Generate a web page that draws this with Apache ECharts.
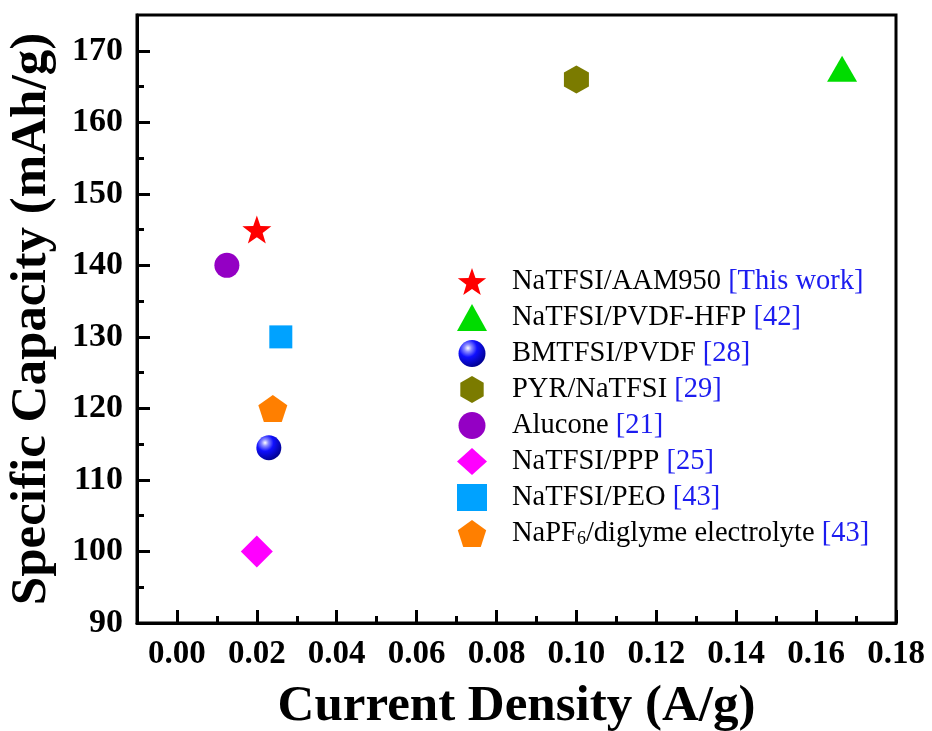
<!DOCTYPE html>
<html>
<head>
<meta charset="utf-8">
<script src="https://cdn.jsdelivr.net/npm/echarts@6/dist/echarts.min.js"></script>
<style>
  html, body { margin: 0; padding: 0; background: #fff; }
  #chart { width: 932px; height: 731px; }
</style>
</head>
<body>
<div id="chart"></div>
<script>
// data
const seriesNames = ['NaTFSI/AAM950', 'NaTFSI/PVDF-HFP', 'BMTFSI/PVDF', 'PYR/NaTFSI', 'Alucone', 'NaTFSI/PPP', 'NaTFSI/PEO', 'NaPF6/diglyme electrolyte']
const refLabels = ['[This work]', '[42]', '[28]', '[29]', '[21]', '[25]', '[43]', '[43]']
const currentDensity = [0.02, 0.1665, 0.023, 0.1, 0.0125, 0.02, 0.026, 0.024]
const capacity = [145, 167.5, 114.5, 166, 140, 100, 130, 120]
const xTicks = [0, 0.02, 0.04, 0.06, 0.08, 0.1, 0.12, 0.14, 0.16, 0.18]
const yTicks = [90, 100, 110, 120, 130, 140, 150, 160, 170]

const font = "'Times New Roman', 'Liberation Serif', serif"

// regular polygon / star outline used as symbol shape
const polyPath = (n, inner) => {
  const pts = []
  const count = inner ? n * 2 : n
  for (let i = 0; i < count; i++) {
    const a = (-90 + (360 / count) * i) * Math.PI / 180
    const r = inner && i % 2 ? 50 * inner : 50
    pts.push((50 + r * Math.cos(a)).toFixed(2) + ' ' + (50 + r * Math.sin(a)).toFixed(2))
  }
  return 'path://M' + pts.join(' L') + ' Z'
}

const sphere = new echarts.graphic.RadialGradient(0.35, 0.3, 0.75, [
  { offset: 0, color: '#ffffff' },
  { offset: 0.18, color: '#8a8aff' },
  { offset: 0.45, color: '#1010ff' },
  { offset: 1, color: '#00008a' }
])

const markStyles = [
  { symbol: polyPath(5, 0.4), size: [29, 28], color: '#ff0000' },
  { symbol: 'triangle', size: [30, 26], color: '#00dc00' },
  { symbol: 'circle', size: 25, color: sphere },
  { symbol: polyPath(6), size: [25, 28], color: '#7b7b00' },
  { symbol: 'circle', size: 25, color: '#9400c4' },
  { symbol: 'diamond', size: 32, color: '#ff00ff' },
  { symbol: 'rect', size: 23, color: '#00a2ff' },
  { symbol: polyPath(5), size: [29, 27], color: '#ff7f00' }
]

const minorOf = ticks => ticks.slice(1).map((v, i) => +((v + ticks[i]) / 2).toFixed(4))

const chart = echarts.init(document.getElementById('chart'))

const tickLine = { color: '#000', width: 3 }

const option = {
  animation: false,
  grid: {
    left: 137, right: 36, top: 15, bottom: 108,
    outerBoundsMode: 'none', containLabel: false,
    show: true, borderColor: '#000', borderWidth: 3
  },
  xAxis: [
    {
      type: 'value', min: -0.01, max: 0.18,
      name: 'Current Density (A/g)', nameLocation: 'middle', nameGap: 58,
      nameTextStyle: { fontFamily: font, fontWeight: 'bold', fontSize: 51, color: '#000' },
      axisLine: { onZero: false, lineStyle: { color: '#000', width: 3 } },
      axisTick: { inside: true, length: 13, customValues: xTicks, lineStyle: tickLine },
      axisLabel: {
        customValues: xTicks, margin: 15,
        fontFamily: font, fontWeight: 'bold', fontSize: 33, color: '#000',
        formatter: v => v.toFixed(2)
      },
      splitLine: { show: false }
    },
    {
      type: 'value', min: -0.01, max: 0.18, position: 'bottom',
      axisLine: { show: false, onZero: false },
      axisTick: { inside: true, length: 7, customValues: minorOf(xTicks), lineStyle: tickLine },
      axisLabel: { show: false },
      splitLine: { show: false }
    }
  ],
  yAxis: [
    {
      type: 'value', min: 90, max: 175,
      name: 'Specific Capacity (mAh/g)', nameLocation: 'middle', nameGap: 80,
      nameTextStyle: { fontFamily: font, fontWeight: 'bold', fontSize: 51, color: '#000' },
      axisLine: { onZero: false, lineStyle: { color: '#000', width: 3 } },
      axisTick: { inside: true, length: 13, customValues: yTicks, lineStyle: tickLine },
      axisLabel: {
        customValues: yTicks, margin: 14,
        fontFamily: font, fontWeight: 'bold', fontSize: 34, color: '#000'
      },
      splitLine: { show: false }
    },
    {
      type: 'value', min: 90, max: 175, position: 'left',
      axisLine: { show: false, onZero: false },
      axisTick: { inside: true, length: 7, customValues: minorOf(yTicks), lineStyle: tickLine },
      axisLabel: { show: false },
      splitLine: { show: false }
    }
  ],
  legend: {
    orient: 'vertical',
    left: 452, top: 262,
    itemWidth: 30, itemHeight: 27, itemGap: 7,
    data: seriesNames,
    formatter: name => {
      const i = seriesNames.indexOf(name)
      const main = name.replace('PF6', 'PF}{sub|6}{n|')
      return '{n|' + main + ' }{r|' + refLabels[i] + '}'
    },
    textStyle: {
      fontFamily: font,
      padding: [0, 0, 0, 20],
      rich: {
        n: { fontFamily: font, fontSize: 28.5, lineHeight: 30, color: '#000' },
        r: { fontFamily: font, fontSize: 28.5, lineHeight: 30, color: '#1c1cf0' },
        sub: { fontFamily: font, fontSize: 18, lineHeight: 14, verticalAlign: 'bottom', color: '#000' }
      }
    }
  },
  series: seriesNames.map((name, i) => ({
    name,
    type: 'scatter',
    xAxisIndex: 0,
    yAxisIndex: 0,
    symbol: markStyles[i].symbol,
    symbolSize: markStyles[i].size,
    itemStyle: { color: markStyles[i].color, opacity: 1 },
    data: [[currentDensity[i], capacity[i]]]
  }))
}

chart.setOption(option)
window.addEventListener('resize', () => chart.resize())
</script>
</body>
</html>
